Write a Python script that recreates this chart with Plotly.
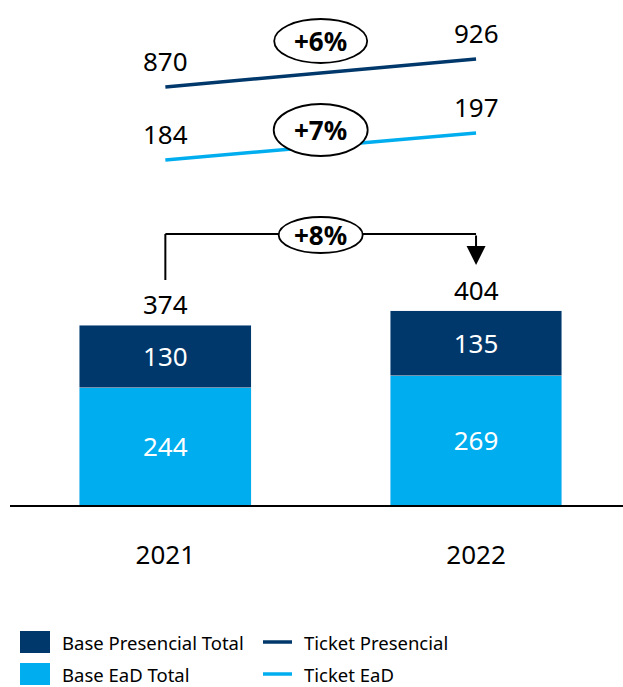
import plotly.graph_objects as go

# ---- data ----
years = ["2021", "2022"]
base_ead = [244, 269]
base_presencial = [130, 135]
base_total = [374, 404]
ticket_presencial = [870, 926]
ticket_ead = [184, 197]

names_bars = ["Base Presencial Total", "Base EaD Total"]
names_lines = ["Ticket Presencial", "Ticket EaD"]

DARK = "#00386B"
LIGHT = "#00AEEF"
FONT = "Noto Sans"

W, H = 623, 687
PLOT_BOTTOM = 505  # pixel y of baseline
MT, MB, ML = 0, H - PLOT_BOTTOM, 10


def py(p):
    """pixel y (from top) -> paper y"""
    return (PLOT_BOTTOM - p) / (PLOT_BOTTOM - MT)


def px(p):
    return (p - ML) / (W - ML)


fig = go.Figure()

fig.add_trace(go.Bar(
    x=years, y=base_ead, name=names_bars[1], marker_color=LIGHT,
    text=[str(v) for v in base_ead], textposition="inside",
    insidetextanchor="middle", textfont=dict(color="white", size=26, family=FONT),
    width=0.553, showlegend=False))
fig.add_trace(go.Bar(
    x=years, y=base_presencial, name=names_bars[0], marker_color=DARK,
    text=[str(v) for v in base_presencial], textposition="inside",
    insidetextanchor="middle", textfont=dict(color="white", size=26, family=FONT),
    width=0.553, showlegend=False))

fig.add_trace(go.Scatter(
    x=years, y=ticket_presencial, mode="lines", name=names_lines[0],
    line=dict(color=DARK, width=3.5), yaxis="y2", showlegend=False))
fig.add_trace(go.Scatter(
    x=years, y=ticket_ead, mode="lines", name=names_lines[1],
    line=dict(color=LIGHT, width=3.5), yaxis="y3", showlegend=False))

annotations = []
shapes = []

# line end labels (x as category index)
for vals, yref in ((ticket_presencial, "y2"), (ticket_ead, "y3")):
    for i, v in enumerate(vals):
        annotations.append(dict(x=i, y=v, xref="x", yref=yref, text=str(v),
                                showarrow=False, yshift=26, yanchor="middle",
                                font=dict(size=26, color="black", family=FONT)))

# totals above bars
for i, v in enumerate(base_total):
    annotations.append(dict(x=i, y=v, xref="x", yref="y", text=str(v),
                            showarrow=False, yshift=21, yanchor="middle",
                            font=dict(size=26, color="black", family=FONT)))


def pct(a, b):
    return "+{:d}%".format(round((b / a - 1) * 100))


# bracket for total growth
shapes.append(dict(type="line", xref="x", yref="paper", x0=0, x1=0,
                   y0=py(280), y1=py(234), line=dict(color="black", width=2)))
shapes.append(dict(type="line", xref="x", yref="paper", x0=0, x1=1,
                   y0=py(234), y1=py(234), line=dict(color="black", width=2)))
annotations.append(dict(x=1, y=py(265), xref="x", yref="paper", text="",
                        showarrow=True, ax=0, ay=-31, axref="pixel", ayref="pixel",
                        arrowhead=2, arrowsize=1.9, arrowwidth=2, arrowcolor="black"))

# ellipses with growth percentages
ellipses = [
    (pct(*ticket_presencial), 41, 93, 44),
    (pct(*ticket_ead), 130, 94, 52),
    (pct(base_total[0], base_total[1]), 235, 84, 36),
]
for txt, cy, w, h in ellipses:
    shapes.append(dict(type="circle", xref="x", yref="paper",
                       xsizemode="pixel", xanchor=0.5, x0=-w / 2, x1=w / 2,
                       ysizemode="pixel", yanchor=py(cy), y0=-h / 2, y1=h / 2,
                       fillcolor="white", line=dict(color="black", width=1.8),
                       layer="above"))
    annotations.append(dict(x=0.5, y=py(cy), xref="x", yref="paper", text="<b>%s</b>" % txt,
                            showarrow=False, yanchor="middle", xanchor="center",
                            font=dict(size=26, color="black", family=FONT)))

# manual legend
leg = [
    (names_bars[0], "box", DARK, 20, 642),
    (names_bars[1], "box", LIGHT, 20, 674),
    (names_lines[0], "line", DARK, 263, 642),
    (names_lines[1], "line", LIGHT, 263, 674),
]
for name, kind, col, x0, cy in leg:
    if kind == "box":
        shapes.append(dict(type="rect", xref="paper", yref="paper",
                           x0=px(x0), x1=px(x0 + 30), y0=py(cy - 11), y1=py(cy + 11),
                           fillcolor=col, line=dict(width=0)))
        tx = x0 + 40
    else:
        shapes.append(dict(type="line", xref="paper", yref="paper",
                           x0=px(x0), x1=px(x0 + 29), y0=py(cy), y1=py(cy),
                           line=dict(color=col, width=3.5)))
        tx = x0 + 39
    annotations.append(dict(x=px(tx), y=py(cy), xref="paper", yref="paper", text=name,
                            showarrow=False, xanchor="left", yanchor="middle",
                            font=dict(size=18.5, color="black", family=FONT)))

fig.update_layout(
    width=W, height=H,
    margin=dict(l=ML, r=0, t=MT, b=MB, pad=0),
    paper_bgcolor="white", plot_bgcolor="white",
    barmode="stack",
    showlegend=False,
    font=dict(family=FONT, color="black"),
    xaxis=dict(type="category", range=[-0.5, 1.473], showgrid=False, zeroline=False,
               showline=True, linecolor="black", linewidth=2, ticks="",
               tickfont=dict(size=26, color="black", family=FONT),
               ticklabelstandoff=26, fixedrange=True),
    yaxis=dict(range=[0, 1050], visible=False, fixedrange=True),
    yaxis2=dict(range=[34, 1044], overlaying="y", visible=False, fixedrange=True),
    yaxis3=dict(range=[17.9, 261.0], overlaying="y", visible=False, fixedrange=True),
    annotations=annotations,
    shapes=shapes,
)

fig.write_html("out.html", config={"displayModeBar": False},
               post_script="document.body.style.margin='0';")
